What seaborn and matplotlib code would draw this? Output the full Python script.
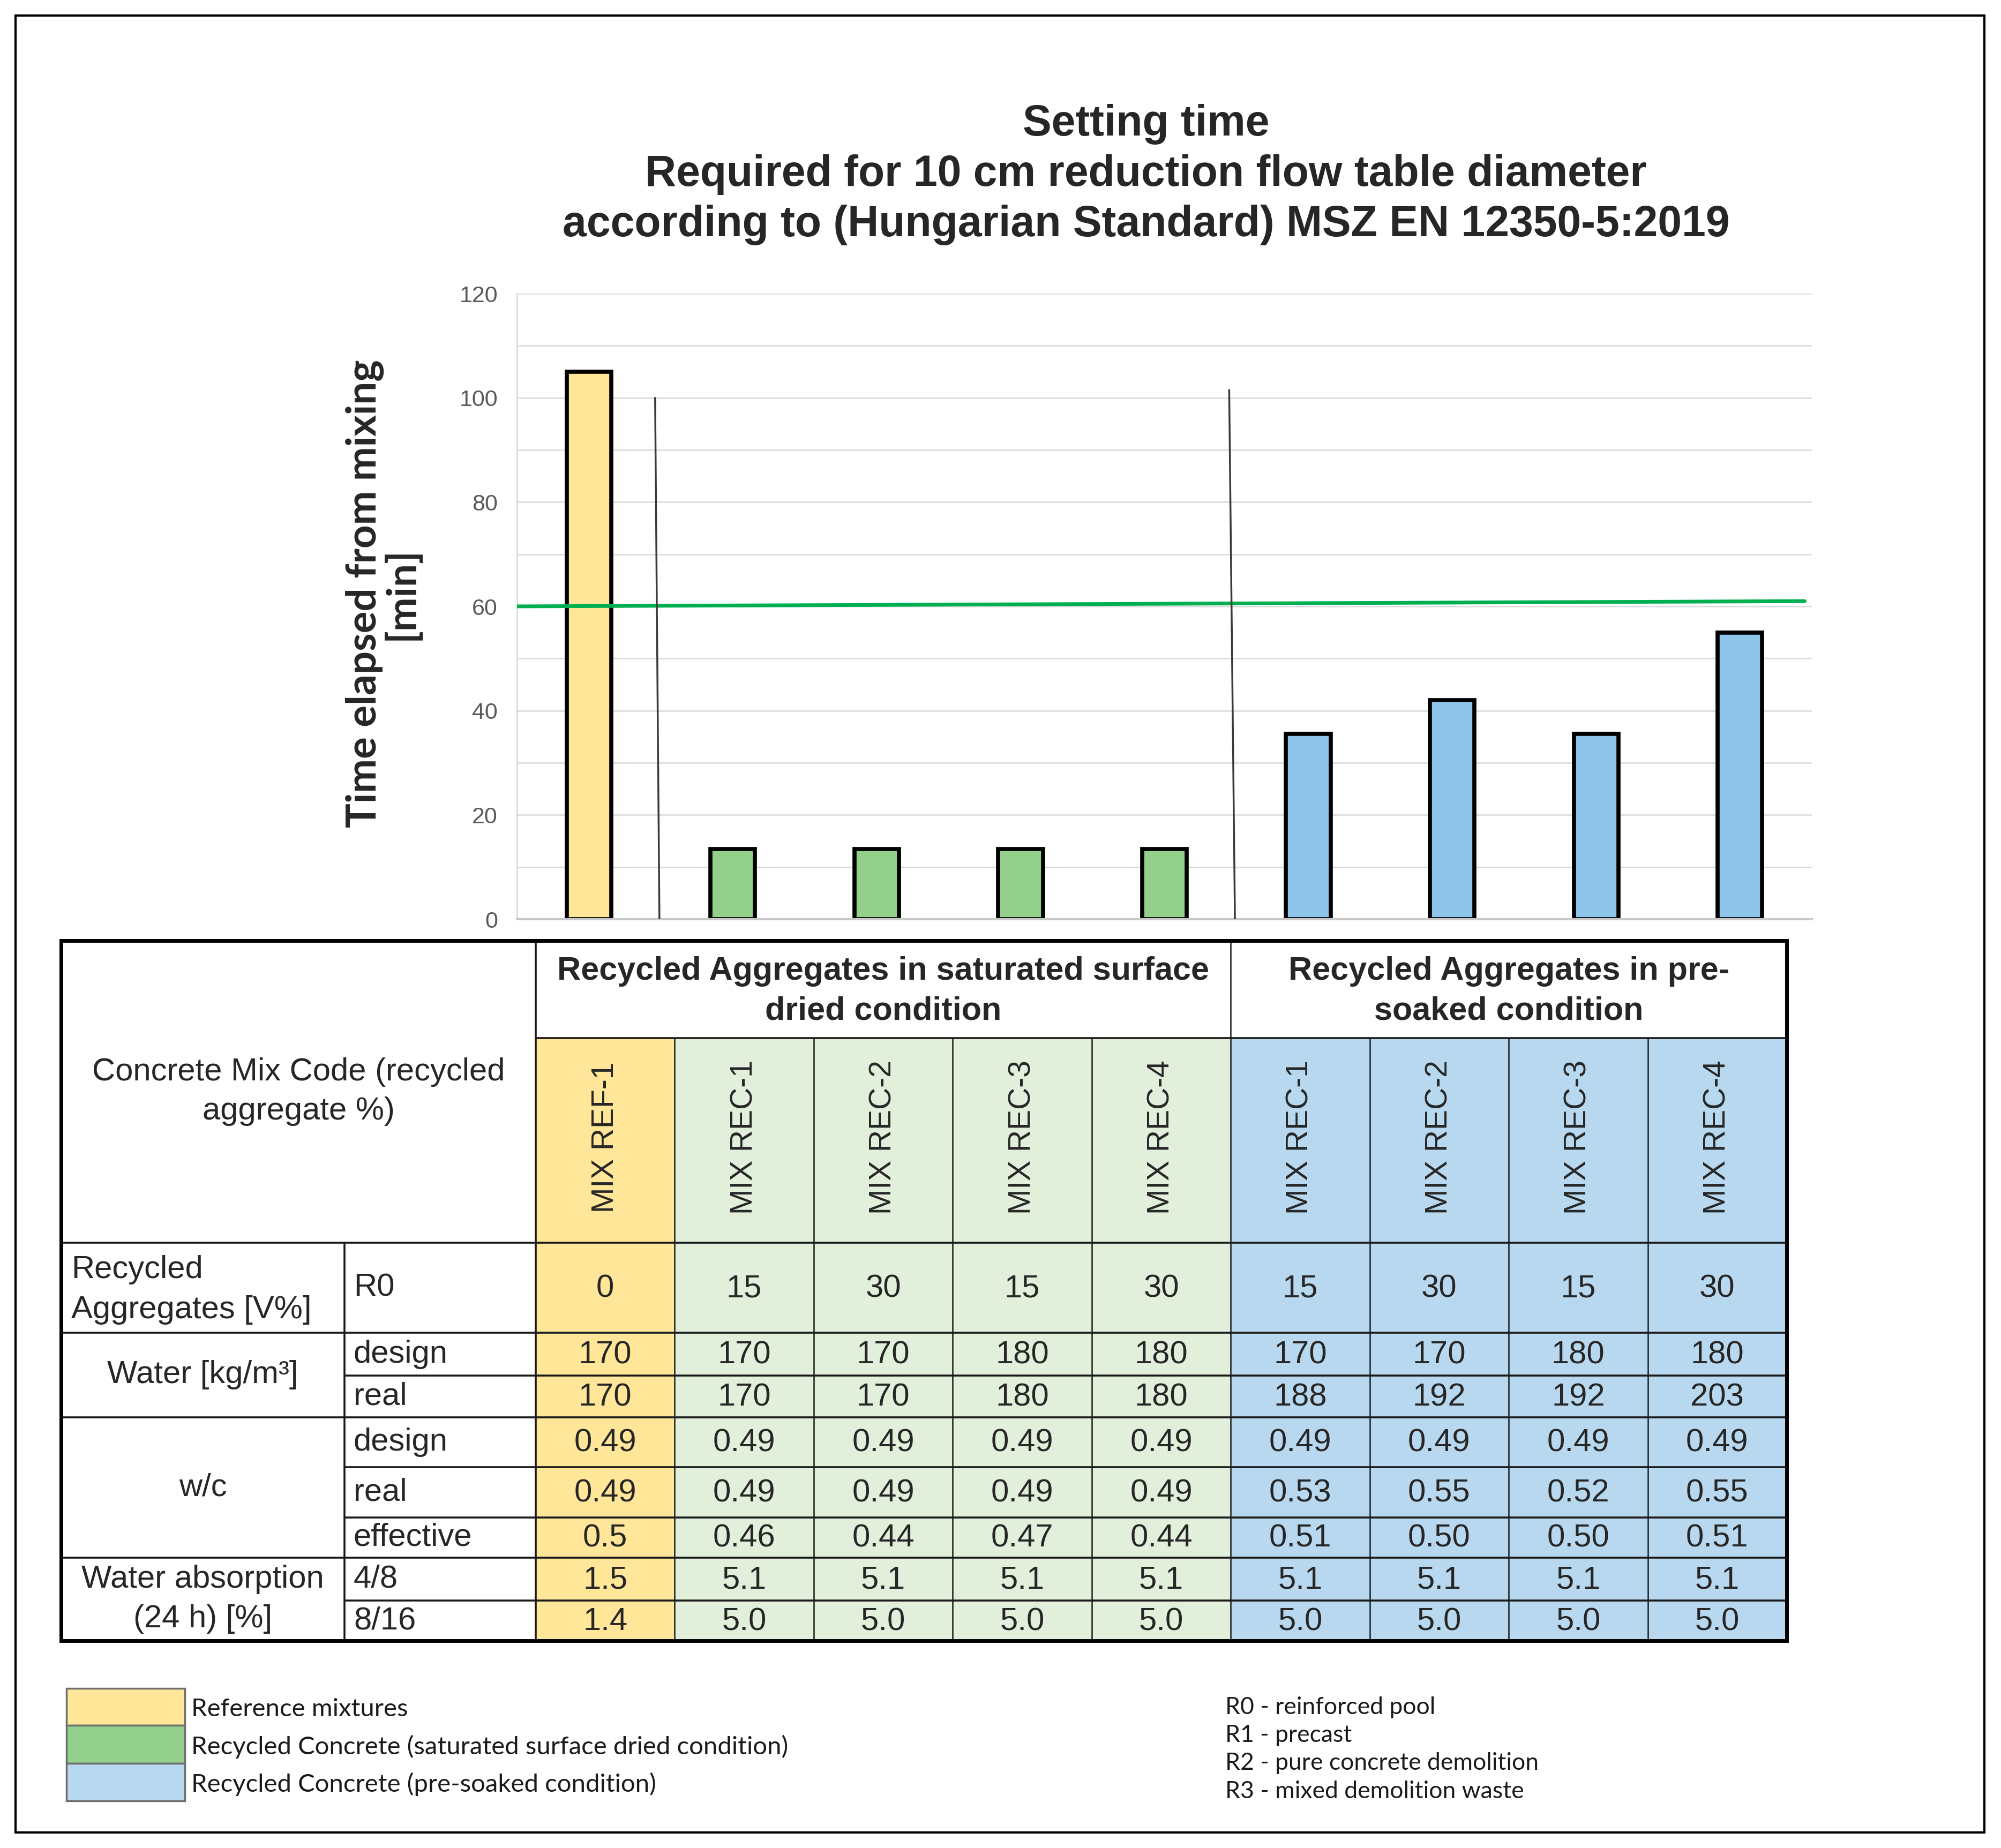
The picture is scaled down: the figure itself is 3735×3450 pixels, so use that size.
import numpy as np
import pandas as pd
import matplotlib.pyplot as plt
import seaborn as sns
from matplotlib.patches import Rectangle

# --- values ---
bar_ids = ["REF-1", "SSD REC-1", "SSD REC-2", "SSD REC-3", "SSD REC-4",
           "PS REC-1", "PS REC-2", "PS REC-3", "PS REC-4"]
bar_groups = ["Reference", "SSD", "SSD", "SSD", "SSD",
              "Pre-soaked", "Pre-soaked", "Pre-soaked", "Pre-soaked"]
setting_time = [105, 13.5, 13.5, 13.5, 13.5, 35.5, 42, 35.5, 55]

limit_line_x = [-0.5, 8.45]
limit_line_y = [60, 61]          # green 60 min line (drawn slightly rising)
divider_x_bottom = [0.49, 4.49]  # thin black separators between groups
divider_x_top = [0.46, 4.45]
divider_top = [100, 101.5]

mix_labels = ["MIX REF-1", "MIX REC-1", "MIX REC-2", "MIX REC-3", "MIX REC-4",
              "MIX REC-1", "MIX REC-2", "MIX REC-3", "MIX REC-4"]
rec_agg = ["0", "15", "30", "15", "30", "15", "30", "15", "30"]
water_design = ["170", "170", "170", "180", "180", "170", "170", "180", "180"]
water_real = ["170", "170", "170", "180", "180", "188", "192", "192", "203"]
wc_design = ["0.49", "0.49", "0.49", "0.49", "0.49", "0.49", "0.49", "0.49", "0.49"]
wc_real = ["0.49", "0.49", "0.49", "0.49", "0.49", "0.53", "0.55", "0.52", "0.55"]
wc_effective = ["0.5", "0.46", "0.44", "0.47", "0.44", "0.51", "0.50", "0.50", "0.51"]
absorption_4_8 = ["1.5", "5.1", "5.1", "5.1", "5.1", "5.1", "5.1", "5.1", "5.1"]
absorption_8_16 = ["1.4", "5.0", "5.0", "5.0", "5.0", "5.0", "5.0", "5.0", "5.0"]

legend_labels = ["Reference mixtures",
                 "Recycled Concrete (saturated surface dried condition)",
                 "Recycled Concrete (pre-soaked condition)"]
source_notes = ["R0 - reinforced pool", "R1 - precast",
                "R2 - pure concrete demolition", "R3 - mixed demolition waste"]

bar_colors = {"Reference": "#FFE699", "SSD": "#93D08B", "Pre-soaked": "#8FC4EA"}
cell_colors = ["#FFE699"] + ["#E2EFDA"] * 4 + ["#B8D8EF"] * 4
legend_colors = ["#FFE699", "#93D08B", "#B8D8EF"]

# --- setup ---
sns.set_theme(style="white")
plt.rcParams["font.family"] = ["Liberation Sans", "DejaVu Sans"]

W, H = 3735, 3450
fig = plt.figure(figsize=(W / 100, H / 100), dpi=100)

# overlay in pixel coords for the table / legend / frame
lay = fig.add_axes([0, 0, 1, 1], zorder=0)
lay.set_xlim(0, W)
lay.set_ylim(H, 0)
lay.axis("off")

# --- bar chart ---
ax_l, ax_r, ax_t, ax_b = 965, 3382, 548, 1716
ax = fig.add_axes([ax_l / W, 1 - ax_b / H, (ax_r - ax_l) / W, (ax_b - ax_t) / H], zorder=1)
df = pd.DataFrame({"mix": bar_ids, "group": bar_groups, "time": setting_time})
sns.barplot(data=df, x="mix", y="time", hue="group", order=bar_ids,
            hue_order=["Reference", "SSD", "Pre-soaked"], palette=bar_colors,
            saturation=1, dodge=False, width=0.31, edgecolor="black", linewidth=5.5,
            legend=False, ax=ax)
ax.set_xlim(-0.5, 8.5)
ax.set_ylim(0, 120)
ax.set_yticks(np.arange(0, 121, 20))
ax.set_yticks(np.arange(0, 121, 10), minor=True)
ax.grid(axis="y", which="both", color="#D9D9D9", linewidth=1.8)
ax.set_axisbelow(True)
for s in ["top", "right"]:
    ax.spines[s].set_visible(False)
ax.spines["left"].set_color("#D9D9D9")
ax.spines["left"].set_linewidth(1.8)
ax.spines["bottom"].set_color("#C8C8C8")
ax.spines["bottom"].set_linewidth(3)
ax.tick_params(axis="y", which="both", length=0, labelsize=31,
               labelcolor="#595959", pad=26)
ax.tick_params(axis="x", length=0, labelbottom=False)
ax.set_xlabel("")
ax.set_ylabel("")

ax.plot(limit_line_x, limit_line_y, color="#00B050", linewidth=5, zorder=4)
for xb, xt, top in zip(divider_x_bottom, divider_x_top, divider_top):
    ax.plot([xb, xt], [0, top], color="#3A3A3A", linewidth=2.5, zorder=4)

fig.text(715 / W, 1 - 1108 / H, "Time elapsed from mixing\n[min]", rotation=90,
         ha="center", va="center", fontsize=55, fontweight="bold",
         family=["Lato", "DejaVu Sans"], linespacing=0.95)

fig.text(2139 / W, 1 - 326 / H,
         "Setting time\nRequired for 10 cm reduction flow table diameter\n"
         "according to (Hungarian Standard) MSZ EN 12350-5:2019",
         ha="center", va="center", fontsize=58, fontweight="bold", linespacing=1.3)

# --- table ---
t_left, t_right, t_top, t_bottom = 114, 3335, 1756, 3063
x_mid, x_data = 643, 1000
col_w = (t_right - x_data) / 9
col_edges = [x_data + k * col_w for k in range(10)]
y_group, y_mix = 1938, 2320
row_edges = [2320, 2488, 2568, 2646, 2739, 2833, 2908, 2988, 3063]

for k in range(9):
    lay.add_patch(Rectangle((col_edges[k], y_group), col_w, t_bottom - y_group,
                            facecolor=cell_colors[k], edgecolor="none", zorder=1))

lw_in, lw_out = 2.6, 5
line_c = "#1A1A1A"
# horizontal rules: (y, x_start)
for y, xs in [(y_group, x_data), (2320, t_left), (2488, t_left), (2568, x_mid),
              (2646, t_left), (2739, x_mid), (2833, x_mid), (2908, t_left), (2988, x_mid)]:
    lay.plot([xs, t_right], [y, y], color=line_c, lw=lw_in, zorder=3)
lay.plot([x_mid, x_mid], [y_mix, t_bottom], color=line_c, lw=lw_in, zorder=3)
lay.plot([x_data, x_data], [t_top, t_bottom], color=line_c, lw=lw_in, zorder=3)
for k in range(1, 9):
    y0 = t_top if k == 5 else y_group
    lay.plot([col_edges[k], col_edges[k]], [y0, t_bottom], color=line_c, lw=1.8, zorder=3)
lay.add_patch(Rectangle((t_left, t_top), t_right - t_left, t_bottom - t_top,
                        facecolor="none", edgecolor="black", lw=lw_out, zorder=4))

tfs = 43
lay.text((col_edges[0] + col_edges[5]) / 2, (t_top + y_group) / 2 + 4,
         "Recycled Aggregates in saturated surface\ndried condition",
         ha="center", va="center", fontsize=44, fontweight="bold", linespacing=1.4)
lay.text((col_edges[5] + col_edges[9]) / 2, (t_top + y_group) / 2 + 4,
         "Recycled Aggregates in pre-\nsoaked condition",
         ha="center", va="center", fontsize=44, fontweight="bold", linespacing=1.4)
lay.text((t_left + x_data) / 2, (t_top + y_mix) / 2,
         "Concrete Mix Code (recycled\naggregate %)",
         ha="center", va="center", fontsize=tfs, linespacing=1.4)

for k, lab in enumerate(mix_labels):
    lay.text((col_edges[k] + col_edges[k + 1]) / 2, (y_group + y_mix) / 2 - 6, lab,
             rotation=90, ha="center", va="center", fontsize=41)

row_centers = [(row_edges[i] + row_edges[i + 1]) / 2 for i in range(8)]
table_rows = [rec_agg, water_design, water_real, wc_design, wc_real,
              wc_effective, absorption_4_8, absorption_8_16]
sub_labels = ["R0", "design", "real", "design", "real", "effective", "4/8", "8/16"]
for yc, vals, sub in zip(row_centers, table_rows, sub_labels):
    lay.text(x_mid + 17, yc, sub, ha="left", va="center", fontsize=tfs)
    for k, v in enumerate(vals):
        lay.text((col_edges[k] + col_edges[k + 1]) / 2, yc + 2, v,
                 ha="center", va="center", fontsize=tfs)

x_lab = (t_left + x_mid) / 2
lay.text(t_left + 19, row_centers[0] + 4, "Recycled\nAggregates [V%]",
         ha="left", va="center", fontsize=tfs, linespacing=1.45)
lay.text(x_lab, (row_edges[1] + row_edges[3]) / 2, "Water [kg/m³]",
         ha="center", va="center", fontsize=tfs)
lay.text(x_lab, (row_edges[3] + row_edges[6]) / 2, "w/c",
         ha="center", va="center", fontsize=tfs)
lay.text(x_lab, (row_edges[6] + row_edges[8]) / 2, "Water absorption\n(24 h) [%]",
         ha="center", va="center", fontsize=tfs, linespacing=1.45)

# --- legend swatches and notes ---
sw_y = [3152, 3221, 3292, 3362]
for i, (lab, c) in enumerate(zip(legend_labels, legend_colors)):
    lay.add_patch(Rectangle((124, sw_y[i]), 221, sw_y[i + 1] - sw_y[i],
                            facecolor=c, edgecolor="#6E6E6E", lw=2.5, zorder=2))
    lay.text(357, (sw_y[i] + sw_y[i + 1]) / 2 + 4, lab, ha="left", va="center",
             fontsize=34, family=["Lato", "DejaVu Sans"], color="#1A1A1A")
for i, note in enumerate(source_notes):
    lay.text(2287, 3187 + i * 52.5, note, ha="left", va="center",
             fontsize=32, family=["Lato", "DejaVu Sans"], color="#1A1A1A")

# outer frame
lay.add_patch(Rectangle((29, 29), 3704 - 29, 3421 - 29, facecolor="none",
                        edgecolor="black", lw=3, zorder=5))

fig.savefig("out.png", dpi=100)
